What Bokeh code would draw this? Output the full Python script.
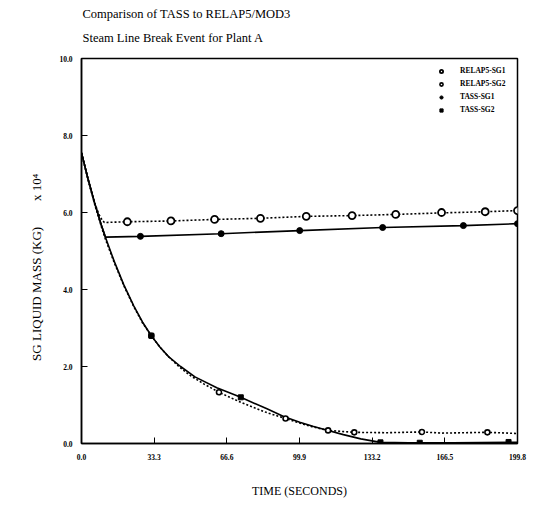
from bokeh.plotting import figure
from bokeh.models import FixedTicker, Legend, LegendItem, Title
from bokeh.embed import file_html
from bokeh.resources import INLINE

# ---- data (mass in 10^4 kg, time in seconds) ----
t_relap_sg1 = [0, 3, 6, 8, 9.5, 10.5, 21, 41, 61, 82, 103, 124, 144, 165, 185, 199.8]
m_relap_sg1 = [7.55, 6.87, 6.25, 5.95, 5.8, 5.74, 5.76, 5.78, 5.82, 5.85, 5.90, 5.92, 5.95, 5.99, 6.02, 6.05]

t_tass_sg1 = [0, 3, 6, 9, 11, 27, 64, 100, 138, 175, 199.8]
m_tass_sg1 = [7.55, 6.87, 6.25, 5.69, 5.36, 5.38, 5.45, 5.53, 5.61, 5.66, 5.71]

t_tass_sg2 = [0, 3, 6, 9, 11, 15, 19.4, 24, 28, 32, 36, 40, 45.4, 52, 62, 73, 85, 92.6, 100, 106, 113, 120, 128, 137, 150, 170, 199.8]
m_tass_sg2 = [7.55, 6.87, 6.25, 5.69, 5.35, 4.73, 4.12, 3.57, 3.15, 2.8, 2.5, 2.25, 2.0, 1.73, 1.45, 1.2, 0.9, 0.7, 0.55, 0.45, 0.34, 0.23, 0.12, 0.03, 0.02, 0.02, 0.03]

t_relap_sg2 = [0, 3, 6, 9, 11, 15, 19.4, 24, 28, 32, 36, 40, 45, 50, 56, 63, 73, 85, 93.5, 100, 106, 113, 125, 140, 156, 165, 186, 199.8]
m_relap_sg2 = [7.55, 6.85, 6.22, 5.65, 5.3, 4.7, 4.1, 3.55, 3.13, 2.8, 2.5, 2.25, 1.98, 1.76, 1.55, 1.33, 1.07, 0.8, 0.65, 0.53, 0.43, 0.34, 0.29, 0.28, 0.30, 0.27, 0.29, 0.26]

# marker positions
tm_relap_sg1 = [21, 41, 61, 82, 103, 124, 144, 165, 185, 199.8]
mm_relap_sg1 = [5.76, 5.78, 5.82, 5.85, 5.90, 5.92, 5.95, 6.0, 6.02, 6.05]
tm_tass_sg1 = [27, 64, 100, 138, 175, 199.8]
mm_tass_sg1 = [5.38, 5.45, 5.53, 5.61, 5.66, 5.71]
tm_relap_sg2 = [32, 63, 93.5, 113, 125, 156, 186]
mm_relap_sg2 = [2.8, 1.33, 0.65, 0.34, 0.29, 0.30, 0.29]
tm_tass_sg2 = [32, 73, 137, 155, 195.7]
mm_tass_sg2 = [2.8, 1.2, 0.03, 0.02, 0.04]

x_ticks = [0, 33.3, 66.6, 99.9, 133.2, 166.5, 199.8]
x_tick_labels = ["0.0", "33.3", "66.6", "99.9", "133.2", "166.5", "199.8"]
y_ticks = [0, 2, 4, 6, 8, 10]
y_tick_labels = ["0.0", "2.0", "4.0", "6.0", "8.0", "10.0"]

title1 = "Comparison of TASS to RELAP5/MOD3"
title2 = "Steam Line Break Event for Plant A"
x_label = "TIME (SECONDS)"
y_label = "SG LIQUID MASS (KG)"
y_scale = "x 10\u2074"

FONT = "Liberation Serif"

p = figure(width=528, height=503, x_range=(0, 199.8), y_range=(0, 10),
           output_backend="svg", toolbar_location=None,
           min_border_left=81, min_border_right=11, min_border_top=58, min_border_bottom=60)
p.background_fill_color = "white"
p.xgrid.visible = False
p.ygrid.visible = False
p.outline_line_color = "black"
p.outline_line_width = 1.5
p.outline_line_alpha = 1.0

for ax in (p.xaxis, p.yaxis):
    ax.axis_line_width = 1.5
    ax.axis_line_color = "black"
    ax.major_tick_in = 6
    ax.major_tick_out = 0
    ax.minor_tick_in = 0
    ax.minor_tick_out = 0
    ax.major_tick_line_width = 1
    ax.major_label_text_font = FONT
    ax.major_label_text_font_size = "7.5px"
    ax.major_label_text_font_style = "bold"
    ax.major_label_text_color = "black"

p.xaxis.ticker = FixedTicker(ticks=x_ticks)
p.xaxis.major_label_overrides = {t: l for t, l in zip(x_ticks, x_tick_labels)}
p.xaxis.major_label_standoff = 10
p.xaxis.axis_label = x_label
p.xaxis.axis_label_text_font = FONT
p.xaxis.axis_label_text_font_size = "12px"
p.xaxis.axis_label_text_font_style = "normal"
p.xaxis.axis_label_text_color = "black"
p.xaxis.axis_label_standoff = 21
p.yaxis.ticker = FixedTicker(ticks=y_ticks)
p.yaxis.major_label_overrides = {t: l for t, l in zip(y_ticks, y_tick_labels)}
p.yaxis.major_label_standoff = 9

# lines
p.line(t_relap_sg1, m_relap_sg1, line_color="black", line_width=1.6, line_dash="2 2")
p.line(t_relap_sg2, m_relap_sg2, line_color="black", line_width=1.6, line_dash="2 2")
p.line(t_tass_sg1, m_tass_sg1, line_color="black", line_width=1.6)
p.line(t_tass_sg2, m_tass_sg2, line_color="black", line_width=1.6)

# markers
r1 = p.scatter(tm_relap_sg1, mm_relap_sg1, marker="circle", size=7, fill_color="white",
               line_color="black", line_width=1.8)
r2 = p.scatter(tm_relap_sg2, mm_relap_sg2, marker="circle", size=5, fill_color="white",
               line_color="black", line_width=1.6)
r3 = p.scatter(tm_tass_sg1, mm_tass_sg1, marker="circle", size=6, fill_color="black",
               line_color="black")
r4 = p.scatter(tm_tass_sg2, mm_tass_sg2, marker="square", size=5, fill_color="black",
               line_color="black")

legend = Legend(items=[LegendItem(label="RELAP5-SG1", renderers=[r1]),
                       LegendItem(label="RELAP5-SG2", renderers=[r2]),
                       LegendItem(label="TASS-SG1", renderers=[r3]),
                       LegendItem(label="TASS-SG2", renderers=[r4])],
                location=(355, 329))
legend.border_line_color = None
legend.background_fill_alpha = 0
legend.label_text_font = FONT
legend.label_text_font_size = "7.5px"
legend.label_text_font_style = "bold"
legend.label_text_color = "black"
legend.glyph_width = 10
legend.glyph_height = 8
legend.label_height = 8
legend.spacing = 4
legend.label_standoff = 14
legend.padding = 2
legend.margin = 0
p.add_layout(legend)

# titles: the added Title sits closest to the frame, p.title above it
p.title.text = title1
p.title.text_font = FONT
p.title.text_font_size = "12.5px"
p.title.text_font_style = "normal"
p.title.text_color = "black"
p.title.align = "left"
p.title.offset = 1
p.title.standoff = -12
t2 = Title(text=title2, text_font=FONT, text_font_size="12.5px", text_font_style="normal",
           text_color="black", align="left", offset=1, standoff=28)
p.add_layout(t2, "above")

# y axis label (with scale factor) as a vertical title on the left;
# trailing no-break spaces push the visible text down along the axis
nb = "\u00a0"
ylab = Title(text=y_label + nb * 8 + y_scale + nb * 10, text_font=FONT,
             text_font_size="13px", text_font_style="normal", text_color="black",
             align="center", standoff=25)
p.add_layout(ylab, "left")

open("out.html", "w").write(file_html(p, INLINE))
